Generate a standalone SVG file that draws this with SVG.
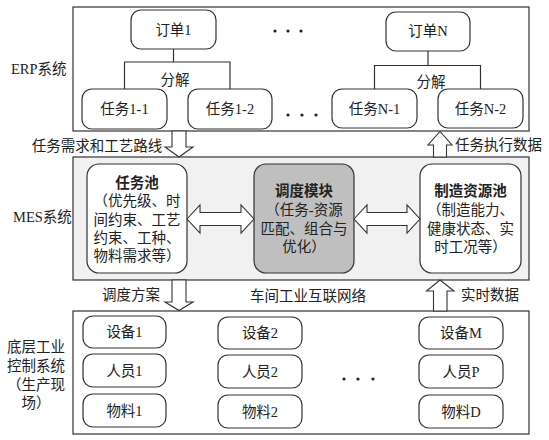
<svg xmlns="http://www.w3.org/2000/svg" width="549" height="440" viewBox="0 0 549 440">
<style>
text{font-family:"Liberation Serif","Noto Sans CJK SC",serif;font-size:14.5px;fill:#222;dominant-baseline:central;text-anchor:middle}
.lbl{text-anchor:start}
.b{font-weight:bold}
.frame{fill:#fff;stroke:#333;stroke-width:1.2}
.node{fill:#fff;stroke:#333;stroke-width:1.2}
.ln{fill:none;stroke:#333;stroke-width:1.2}
.arr{fill:#fff;stroke:#333;stroke-width:1.1;stroke-linejoin:miter}
</style>
<rect width="549" height="440" fill="#fff"/>
<!-- layer frames -->
<g id="erp">
<rect class="frame" x="73" y="7" width="456" height="124"/>
<text class="lbl" x="11" y="69">ERP系统</text>
</g>
<g id="mes">
<rect class="frame" x="73" y="157" width="456" height="123" style="fill:#f1f1f1"/>
<text class="lbl" x="13" y="217">MES系统</text>
</g>
<g id="shop">
<rect class="frame" x="73" y="311" width="456" height="123"/>
<text x="36" y="347">底层工业</text>
<text x="36" y="366">控制系统</text>
<text x="36" y="385">（生产现</text>
<text x="36" y="403">场）</text>
</g>
<!-- ERP nodes -->
<g id="order1"><rect class="node" x="131" y="10" width="85" height="39" rx="10"/><text x="173.5" y="30">订单1</text></g>
<g id="orderN"><rect class="node" x="386" y="12" width="84" height="39" rx="10"/><text x="428" y="31">订单N</text></g>
<g id="task11"><rect class="node" x="82" y="89" width="85" height="40" rx="10"/><text x="124.5" y="109">任务1-1</text></g>
<g id="task12"><rect class="node" x="188" y="89" width="84" height="40" rx="10"/><text x="230" y="109">任务1-2</text></g>
<g id="taskN1"><rect class="node" x="332" y="89" width="85" height="39" rx="10"/><text x="374.5" y="108.5">任务N-1</text></g>
<g id="taskN2"><rect class="node" x="438" y="89" width="85" height="39" rx="10"/><text x="480.5" y="108.5">任务N-2</text></g>
<g id="dots-top">
<circle cx="275" cy="31" r="1.6" fill="#222"/><circle cx="288" cy="31" r="1.6" fill="#222"/><circle cx="301" cy="31" r="1.6" fill="#222"/>
<circle cx="288" cy="115" r="1.6" fill="#222"/><circle cx="302" cy="115" r="1.6" fill="#222"/><circle cx="316" cy="115" r="1.6" fill="#222"/>
</g>
<!-- MES nodes -->
<g id="taskpool">
<rect class="node" x="87" y="164" width="100" height="109" rx="12"/>
<text class="b" x="137" y="183">任务池</text>
<text x="137" y="201">（优先级、时</text>
<text x="137" y="219.5">间约束、工艺</text>
<text x="137" y="238">约束、工种、</text>
<text x="137" y="256">物料需求等）</text>
</g>
<g id="scheduler">
<rect class="node" x="254" y="164" width="100" height="109" rx="12" style="fill:#bfbfbf"/>
<text class="b" x="304" y="191">调度模块</text>
<text x="304" y="210">（任务-资源</text>
<text x="304" y="228.5">匹配、组合与</text>
<text x="304" y="247">优化）</text>
</g>
<g id="respool">
<rect class="node" x="420" y="164" width="101" height="109" rx="12"/>
<text class="b" x="470.5" y="191">制造资源池</text>
<text x="470.5" y="210">（制造能力、</text>
<text x="470.5" y="228.5">健康状态、实</text>
<text x="470.5" y="247">时工况等）</text>
</g>
<!-- bottom nodes -->
<g id="dev1"><rect class="node" x="83" y="316" width="83" height="32" rx="10"/><text x="124.5" y="332">设备1</text></g>
<g id="per1"><rect class="node" x="83" y="354" width="83" height="33" rx="10"/><text x="124.5" y="370.5">人员1</text></g>
<g id="mat1"><rect class="node" x="83" y="394" width="83" height="33" rx="10"/><text x="124.5" y="410.5">物料1</text></g>
<g id="dev2"><rect class="node" x="218" y="317" width="84" height="32" rx="10"/><text x="260" y="333">设备2</text></g>
<g id="per2"><rect class="node" x="218" y="355" width="84" height="33" rx="10"/><text x="260" y="371.5">人员2</text></g>
<g id="mat2"><rect class="node" x="218" y="395" width="84" height="33" rx="10"/><text x="260" y="411.5">物料2</text></g>
<g id="devM"><rect class="node" x="419" y="317" width="84" height="32" rx="10"/><text x="461" y="333">设备M</text></g>
<g id="perP"><rect class="node" x="419" y="355" width="84" height="33" rx="10"/><text x="461" y="371.5">人员P</text></g>
<g id="matD"><rect class="node" x="419" y="395" width="84" height="33" rx="10"/><text x="461" y="411.5">物料D</text></g>
<g id="dots-bottom">
<circle cx="344" cy="379" r="1.6" fill="#222"/><circle cx="358" cy="379" r="1.6" fill="#222"/><circle cx="373" cy="379" r="1.6" fill="#222"/>
</g>
<!-- connectors -->
<g id="connectors">
<polyline class="ln" points="173.5,49 173.5,62"/>
<polyline class="ln" points="124.5,89 124.5,62 230,62 230,89"/>
<text x="175" y="80">分解</text>
<polyline class="ln" points="428,51 428,65.5"/>
<polyline class="ln" points="374.5,89 374.5,65.5 480.5,65.5 480.5,89"/>
<text x="431" y="82">分解</text>
<polygon class="arr" points="172,131 186,131 186,147 193,147 179,157 165,147 172,147"/>
<text x="97" y="145.5">任务需求和工艺路线</text>
<polygon class="arr" points="433.5,157 446.5,157 446.5,145 452,145 440,131.5 428,145 433.5,145"/>
<text class="lbl" x="455" y="145">任务执行数据</text>
<polygon class="arr" points="187,219 200,205 200,212.5 241,212.5 241,205 254,219 241,233 241,225.5 200,225.5 200,233"/>
<polygon class="arr" points="354,219 367,205 367,212.5 407,212.5 407,205 420,219 407,233 407,225.5 367,225.5 367,233"/>
<polygon class="arr" points="172,280 186,280 186,302 193,302 179,310.5 165,302 172,302"/>
<text x="131" y="295">调度方案</text>
<text x="308" y="295.5">车间工业互联网络</text>
<polygon class="arr" points="433.5,311 447,311 447,291 454,291 440,280 426.5,291 433.5,291"/>
<text class="lbl" x="461" y="295">实时数据</text>
</g>
</svg>
